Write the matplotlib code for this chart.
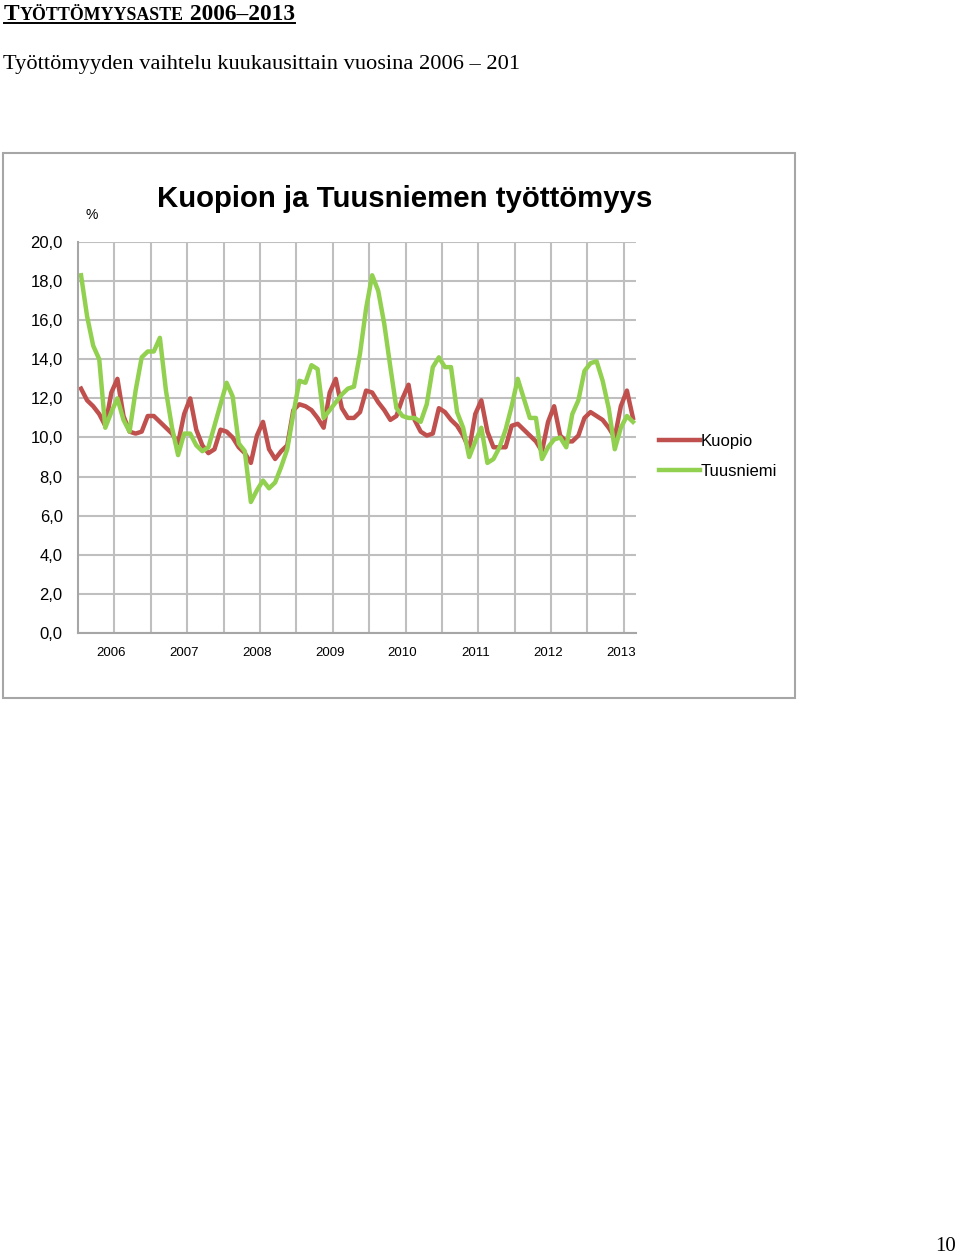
import matplotlib.pyplot as plt
from matplotlib.patches import Rectangle
from matplotlib.lines import Line2D

# kuukausittaiset työttömyysasteet tammi 2006 - elo 2013 (%)
kuopio = [12.5, 11.9, 11.6, 11.2, 10.6, 12.3, 13.0, 11.1, 10.3, 10.2, 10.3, 11.1,
          11.1, 10.8, 10.5, 10.2, 9.7, 11.2, 12.0, 10.4, 9.6, 9.2, 9.4, 10.4,
          10.3, 10.0, 9.5, 9.2, 8.7, 10.1, 10.8, 9.4, 8.9, 9.3, 9.6, 11.4,
          11.7, 11.6, 11.4, 11.0, 10.5, 12.3, 13.0, 11.5, 11.0, 11.0, 11.3, 12.4,
          12.3, 11.8, 11.4, 10.9, 11.1, 12.0, 12.7, 10.9, 10.3, 10.1, 10.2, 11.5,
          11.3, 10.9, 10.6, 10.1, 9.4, 11.2, 11.9, 10.3, 9.5, 9.5, 9.5, 10.6,
          10.7, 10.4, 10.1, 9.8, 9.3, 10.8, 11.6, 10.1, 9.8, 9.8, 10.1, 11.0,
          11.3, 11.1, 10.9, 10.5, 10.0, 11.6, 12.4, 11.0]
tuusniemi = [18.3, 16.2, 14.7, 14.0, 10.5, 11.3, 12.0, 10.9, 10.3, 12.4, 14.1, 14.4,
             14.4, 15.1, 12.4, 10.5, 9.1, 10.2, 10.2, 9.6, 9.3, 9.5, 10.6, 11.7,
             12.8, 12.1, 9.7, 9.3, 6.7, 7.3, 7.8, 7.4, 7.7, 8.5, 9.4, 11.2,
             12.9, 12.8, 13.7, 13.5, 11.0, 11.4, 11.8, 12.2, 12.5, 12.6, 14.3, 16.6,
             18.3, 17.5, 15.8, 13.6, 11.5, 11.1, 11.0, 11.0, 10.8, 11.7, 13.6, 14.1,
             13.6, 13.6, 11.3, 10.5, 9.0, 9.8, 10.5, 8.7, 8.9, 9.5, 10.4, 11.6,
             13.0, 12.0, 11.0, 11.0, 8.9, 9.5, 9.9, 10.0, 9.5, 11.2, 11.9, 13.4,
             13.8, 13.9, 12.9, 11.5, 9.4, 10.5, 11.1, 10.8]
vuodet = ["2006", "2007", "2008", "2009", "2010", "2011", "2012", "2013"]
yticks = [0, 2, 4, 6, 8, 10, 12, 14, 16, 18, 20]

W, H = 960, 1255
fig = plt.figure(figsize=(W / 100, H / 100), dpi=100)

def fx(px):
    return px / W

def fy(py):
    return 1 - py / H

serif = "Liberation Serif"
sans = "Liberation Sans"

# otsikko kapiteelein + alleviivaus
r = fig.canvas.get_renderer()
t1 = fig.text(fx(4), fy(20), "T", fontsize=16.8, fontweight="bold", family=serif, va="baseline")
x = t1.get_window_extent(r).x1
t2 = fig.text(x / W, fy(20), "YÖTTÖMYYSASTE", fontsize=12.9, fontweight="bold", family=serif, va="baseline")
x = t2.get_window_extent(r).x1
t3 = fig.text(x / W, fy(20), " 2006\u20132013", fontsize=16.8, fontweight="bold", family=serif, va="baseline")
x = t3.get_window_extent(r).x1
fig.add_artist(Line2D([fx(4), x / W], [fy(22.5), fy(22.5)], color="black", lw=1.4))

fig.text(fx(3), fy(69), "Työttömyyden vaihtelu kuukausittain vuosina 2006 \u2013 201",
         fontsize=16.1, family=serif, va="baseline")

fig.text(fx(946), fy(1251), "10", fontsize=15, family=serif, va="baseline", ha="center")

# kaavion kehys
fig.add_artist(Rectangle((fx(3), fy(698)), fx(795) - fx(3), fy(153) - fy(698),
                         transform=fig.transFigure, fill=False, edgecolor="#a6a6a6", lw=1.5))

fig.text(fx(405), fy(199), "Kuopion ja Tuusniemen työttömyys", fontsize=21.2,
         fontweight="bold", family=sans, ha="center", va="center")
fig.text(fx(92), fy(215), "%", fontsize=10, family=sans, ha="center", va="center")

ax = fig.add_axes([fx(78), fy(633), fx(636) - fx(78), fy(242) - fy(633)])
n = len(kuopio)
kk = list(range(n))
ax.plot(kk, kuopio, color="#C0504D", lw=3.2, label="Kuopio", solid_joinstyle="round")
ax.plot(kk, tuusniemi, color="#92D050", lw=3.2, label="Tuusniemi", solid_joinstyle="round")

ax.set_xlim(-0.5, n - 0.5)
ax.set_ylim(0, 20)
ax.set_yticks(yticks)
ax.set_yticklabels([f"{v:.1f}".replace(".", ",") for v in yticks], family=sans, fontsize=12)
ax.set_xticks([5 + 12 * i for i in range(len(vuodet))])
ax.set_xticklabels(vuodet, family=sans, fontsize=9.5)
ax.set_xticks([5.5 + 6 * i for i in range(15)], minor=True)
ax.tick_params(axis="both", which="both", length=0)
ax.tick_params(axis="y", pad=11)
ax.tick_params(axis="x", pad=10)
ax.grid(True, axis="y", which="major", color="#bfbfbf", lw=1.5)
ax.grid(True, axis="x", which="minor", color="#bfbfbf", lw=1.5)
ax.set_axisbelow(True)
for s in ["top", "right"]:
    ax.spines[s].set_visible(False)
for s in ["left", "bottom"]:
    ax.spines[s].set_color("#a6a6a6")
    ax.spines[s].set_linewidth(1.5)

axw = fx(636) - fx(78)
leg = ax.legend(loc="upper left", bbox_to_anchor=((fx(652) - fx(78)) / axw, 0.527),
                frameon=False, prop={"family": sans, "size": 12},
                handlelength=2.5, handletextpad=0.0, labelspacing=0.92, borderaxespad=0)

fig.savefig("out.png", dpi=100)
